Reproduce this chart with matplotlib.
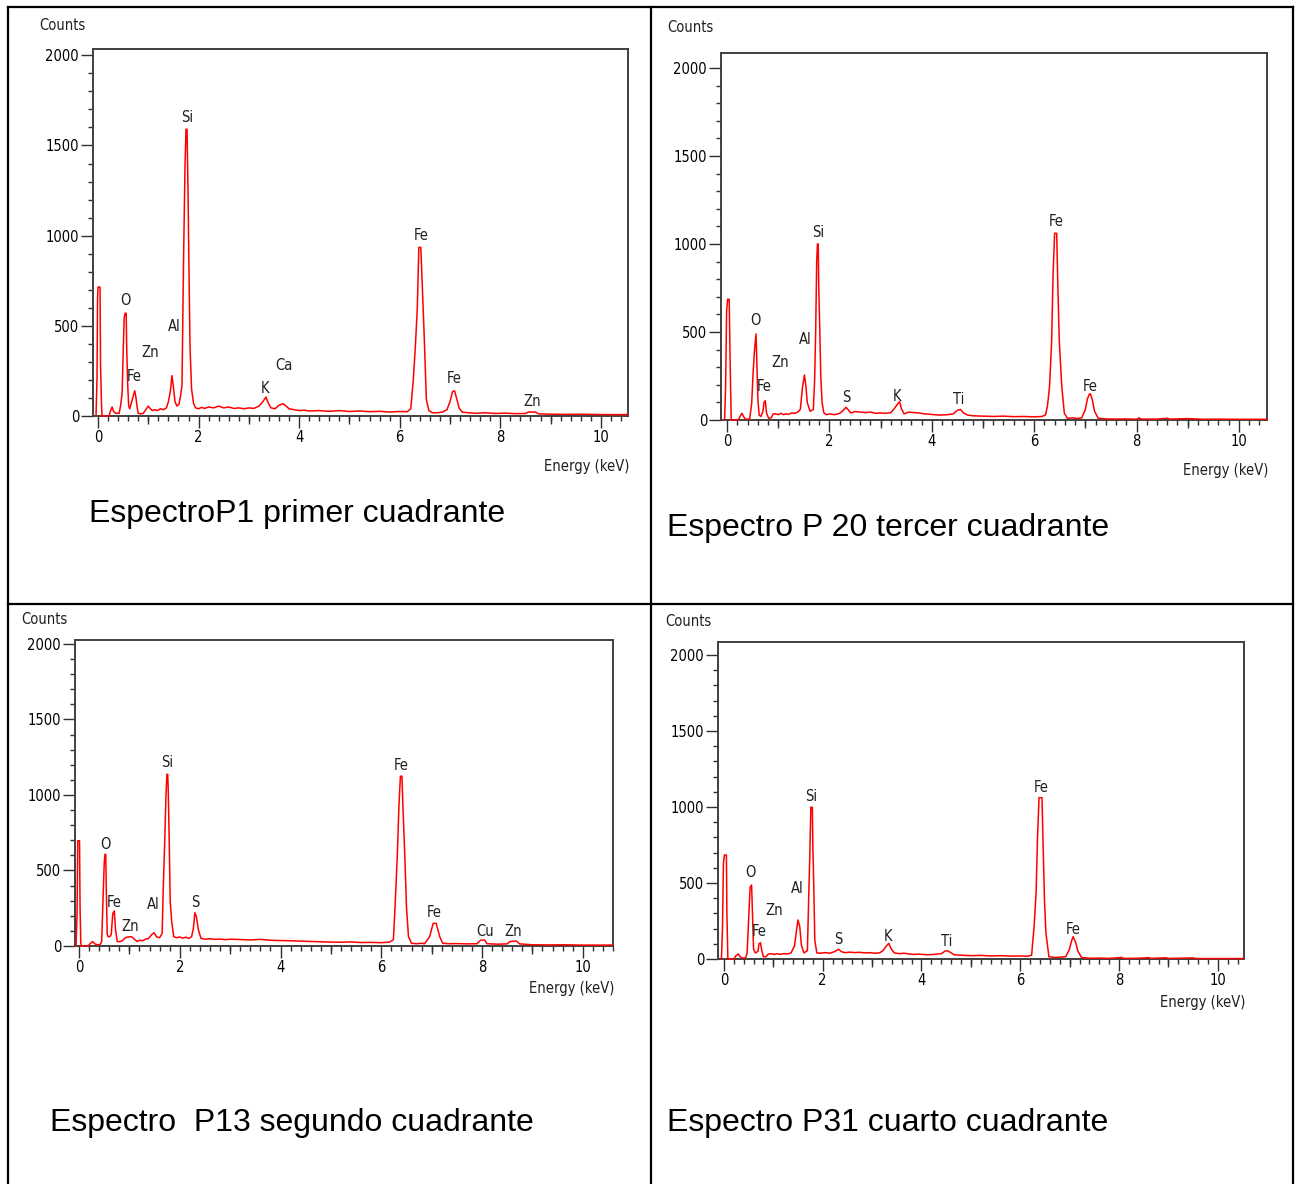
import numpy as np
import matplotlib
matplotlib.use("Agg")
import matplotlib.pyplot as plt
from matplotlib.lines import Line2D
from matplotlib.ticker import MultipleLocator

plt.rcParams['font.family'] = ['DejaVu Sans']
plt.rcParams['font.stretch'] = 'condensed'

# ---- datos (energia keV, cuentas) ----
e_p1 = [-0.04, -0.02, -0.01, 0.00, 0.04, 0.05, 0.07, 0.08, 0.22, 0.25, 0.28, 0.31, 0.35, 0.42,
        0.45, 0.48, 0.50, 0.52, 0.54, 0.56, 0.57, 0.59, 0.61, 0.63, 0.66, 0.70, 0.73, 0.75, 0.78,
        0.80, 0.85, 0.90, 0.95, 1.00, 1.04, 1.08, 1.12, 1.18, 1.24, 1.30, 1.36, 1.40, 1.44, 1.47,
        1.50, 1.53, 1.57, 1.61, 1.64, 1.67, 1.70, 1.73, 1.75, 1.77, 1.79, 1.81, 1.83, 1.86, 1.90,
        1.94, 2.00, 2.06, 2.12, 2.20, 2.30, 2.40, 2.50, 2.60, 2.70, 2.80, 2.90, 3.00, 3.10, 3.20,
        3.28, 3.34, 3.38, 3.44, 3.52, 3.60, 3.68, 3.74, 3.80, 3.90, 4.00, 4.10, 4.20, 4.40, 4.60,
        4.80, 5.00, 5.20, 5.40, 5.60, 5.80, 6.00, 6.15, 6.22, 6.27, 6.31, 6.35, 6.38, 6.42, 6.45,
        6.49, 6.53, 6.58, 6.65, 6.75, 6.85, 6.94, 7.00, 7.05, 7.09, 7.13, 7.18, 7.24, 7.35, 7.50,
        7.70, 7.90, 8.10, 8.30, 8.50, 8.56, 8.70, 8.76, 9.00, 9.30, 9.60, 10.00, 10.30, 10.54]
c_p1 = [0, 210, 650, 715, 715, 275, 60, 0, 0, 30, 50, 25, 15, 15,
        60, 130, 350, 545, 570, 570, 380, 175, 55, 40, 70, 110, 140, 110, 45,
        15, 12, 15, 35, 55, 40, 30, 35, 30, 40, 35, 45, 80, 140, 224,
        160, 80, 55, 65, 110, 170, 850, 1390, 1590, 1590, 1240, 780, 380, 150, 70,
        45, 40, 48, 42, 50, 45, 55, 45, 50, 42, 45, 40, 45, 42, 55,
        80, 105, 75, 45, 40, 60, 68, 55, 40, 35, 30, 32, 28, 30, 26,
        30, 25, 28, 24, 26, 22, 25, 24, 40, 200, 380, 600, 935, 935, 720,
        420, 90, 30, 18, 18, 22, 35, 80, 135, 140, 100, 45, 22, 18, 15,
        18, 14, 16, 13, 14, 22, 22, 12, 10, 9, 10, 8, 8, 8]

e_p20 = [-0.05, -0.03, -0.01, 0.01, 0.04, 0.06, 0.08, 0.22, 0.26, 0.29, 0.32, 0.36, 0.44, 0.48,
         0.51, 0.54, 0.565, 0.585, 0.60, 0.625, 0.66, 0.70, 0.72, 0.745, 0.77, 0.81, 0.86, 0.90,
         0.95, 1.00, 1.05, 1.10, 1.15, 1.20, 1.26, 1.32, 1.38, 1.43, 1.47, 1.51, 1.54, 1.565,
         1.62, 1.685, 1.71, 1.73, 1.75, 1.765, 1.78, 1.79, 1.81, 1.83, 1.855, 1.89, 1.95, 2.00,
         2.10, 2.20, 2.27, 2.32, 2.36, 2.42, 2.50, 2.60, 2.70, 2.80, 2.90, 3.00, 3.10, 3.20, 3.28,
         3.34, 3.37, 3.41, 3.46, 3.55, 3.65, 3.75, 3.85, 3.95, 4.05, 4.15, 4.30, 4.42, 4.50, 4.56,
         4.62, 4.70, 4.80, 5.00, 5.20, 5.40, 5.60, 5.80, 6.00, 6.15, 6.22, 6.26, 6.30, 6.34, 6.37,
         6.40, 6.44, 6.46, 6.49, 6.54, 6.59, 6.65, 6.75, 6.85, 6.93, 7.00, 7.04, 7.08, 7.10, 7.14,
         7.18, 7.25, 7.40, 7.60, 7.80, 8.00, 8.05, 8.10, 8.40, 8.60, 8.65, 9.00, 9.30, 9.60, 10.00,
         10.30, 10.55]
c_p20 = [0, 190, 625, 686, 686, 303, 0, 0, 25, 38, 20, 5, 5, 95,
         284, 417, 489, 284, 123, 28, 20, 50, 100, 110, 40, 10, 12, 35,
         35, 30, 38, 30, 35, 32, 40, 38, 45, 60, 180, 256, 190, 100,
         50, 60, 230, 500, 900, 1000, 1000, 760, 520, 250, 100, 40, 30, 35,
         30, 38, 55, 72, 60, 40, 48, 45, 42, 45, 38, 40, 38, 42, 70,
         95, 104, 60, 35, 45, 42, 40, 35, 33, 30, 28, 30, 35, 55, 60,
         40, 28, 24, 22, 20, 22, 19, 20, 18, 20, 28, 80, 189, 436, 833,
         1061, 1061, 795, 455, 189, 38, 10, 12, 8, 12, 60, 120, 148, 148, 110,
         50, 10, 6, 5, 6, 4, 12, 5, 5, 10, 5, 8, 4, 5, 4,
         4, 4]

e_p13 = [-0.06, -0.04, -0.025, 0.01, 0.02, 0.035, 0.05, 0.18, 0.22, 0.27, 0.31, 0.36, 0.42, 0.45,
         0.48, 0.50, 0.515, 0.53, 0.545, 0.56, 0.58, 0.62, 0.64, 0.67, 0.70, 0.725, 0.76, 0.80,
         0.86, 0.92, 0.98, 1.04, 1.10, 1.15, 1.20, 1.26, 1.32, 1.38, 1.44, 1.49, 1.54, 1.60, 1.65,
         1.67, 1.70, 1.725, 1.745, 1.76, 1.77, 1.79, 1.81, 1.84, 1.88, 1.94, 2.00, 2.06, 2.12, 2.18,
         2.235, 2.27, 2.30, 2.33, 2.37, 2.42, 2.50, 2.60, 2.70, 2.80, 2.90, 3.00, 3.20, 3.40, 3.60,
         3.80, 4.00, 4.20, 4.40, 4.60, 4.80, 5.00, 5.20, 5.40, 5.60, 5.80, 6.00, 6.15, 6.24, 6.28,
         6.32, 6.35, 6.38, 6.41, 6.43, 6.47, 6.50, 6.54, 6.60, 6.70, 6.80, 6.86, 6.96, 7.03, 7.09,
         7.16, 7.22, 7.35, 7.50, 7.70, 7.90, 7.97, 8.05, 8.10, 8.30, 8.50, 8.56, 8.68, 8.75, 9.00,
         9.30, 9.60, 10.00, 10.30, 10.60]
c_p13 = [0, 205, 697, 697, 260, 20, 0, 0, 15, 29, 15, 8, 10, 30,
         349, 547, 607, 607, 305, 77, 60, 65, 77, 216, 232, 106, 30, 28,
         35, 55, 60, 62, 45, 30, 38, 35, 45, 50, 75, 88, 60, 55, 84,
         360, 680, 989, 1137, 1137, 1044, 702, 294, 161, 62, 55, 60, 52, 58, 50,
         62, 117, 221, 194, 106, 51, 45, 48, 44, 46, 42, 45, 43, 40, 44,
         38, 36, 35, 32, 30, 28, 26, 25, 27, 23, 24, 22, 25, 40, 305,
         614, 923, 1124, 1124, 923, 570, 260, 62, 18, 15, 18, 15, 62, 150, 150,
         62, 18, 15, 16, 14, 15, 38, 40, 15, 12, 14, 30, 33, 14, 8,
         7, 8, 6, 6, 6]

e_p31 = [-0.05, -0.03, -0.01, 0.01, 0.05, 0.06, 0.08, 0.20, 0.24, 0.29, 0.33, 0.38, 0.44, 0.47,
         0.50, 0.53, 0.56, 0.58, 0.60, 0.635, 0.69, 0.71, 0.74, 0.77, 0.80, 0.85, 0.90, 0.96,
         1.02, 1.08, 1.14, 1.20, 1.28, 1.36, 1.43, 1.47, 1.50, 1.535, 1.57, 1.62, 1.69, 1.715,
         1.735, 1.76, 1.79, 1.80, 1.82, 1.84, 1.88, 1.95, 2.05, 2.15, 2.25, 2.32, 2.38, 2.45, 2.55,
         2.65, 2.75, 2.85, 2.95, 3.05, 3.15, 3.22, 3.30, 3.34, 3.38, 3.45, 3.55, 3.65, 3.75, 3.85,
         3.95, 4.10, 4.25, 4.40, 4.48, 4.52, 4.58, 4.66, 4.80, 5.00, 5.20, 5.40, 5.60, 5.80, 6.00,
         6.15, 6.23, 6.28, 6.32, 6.35, 6.38, 6.44, 6.46, 6.49, 6.52, 6.58, 6.70, 6.80, 6.92, 6.99,
         7.04, 7.07, 7.12, 7.17, 7.24, 7.40, 7.60, 7.80, 8.05, 8.10, 8.40, 8.60, 8.65, 8.95, 9.00,
         9.50, 9.55, 10.00, 10.53]
c_p31 = [0, 191, 630, 684, 684, 300, 0, 0, 20, 33, 15, 5, 8, 40,
         257, 471, 487, 280, 66, 40, 50, 100, 107, 50, 15, 15, 33, 35,
         30, 35, 30, 35, 33, 40, 88, 191, 257, 213, 88, 40, 55, 388,
         630, 998, 998, 750, 467, 125, 40, 38, 42, 38, 50, 64, 48, 42, 45,
         42, 44, 40, 42, 38, 40, 55, 90, 103, 70, 40, 35, 38, 33, 30,
         32, 28, 30, 35, 52, 55, 45, 28, 25, 22, 24, 20, 22, 19, 20,
         18, 26, 213, 432, 805, 1061, 1061, 783, 388, 169, 15, 10, 12, 15, 59,
         120, 147, 110, 50, 10, 5, 6, 4, 10, 4, 5, 9, 4, 8, 4,
         7, 3, 3, 3]

# etiquetas de los picos: simbolo, energia, cuentas (centro del texto)
lab_p1 = ['O', 'Fe', 'Zn', 'Al', 'Si', 'K', 'Ca', 'Fe', 'Fe', 'Zn']
lx_p1 = [0.54, 0.72, 1.03, 1.51, 1.77, 3.32, 3.70, 6.42, 7.08, 8.63]
ly_p1 = [639, 217, 350, 494, 1656, 150, 278, 1000, 206, 83]

lab_p20 = ['O', 'Fe', 'Zn', 'Al', 'Si', 'S', 'K', 'Ti', 'Fe', 'Fe']
lx_p20 = [0.55, 0.72, 1.04, 1.52, 1.78, 2.32, 3.32, 4.53, 6.43, 7.09]
ly_p20 = [568, 188, 324, 460, 1068, 125, 136, 114, 1125, 193]

lab_p13 = ['O', 'Fe', 'Zn', 'Al', 'Si', 'S', 'Fe', 'Fe', 'Cu', 'Zn']
lx_p13 = [0.52, 0.69, 1.01, 1.47, 1.75, 2.30, 6.39, 7.06, 8.06, 8.61]
ly_p13 = [669, 291, 132, 272, 1212, 285, 1192, 225, 99, 99]

lab_p31 = ['O', 'Fe', 'Zn', 'Al', 'Si', 'S', 'K', 'Ti', 'Fe', 'Fe']
lx_p31 = [0.53, 0.71, 1.01, 1.48, 1.76, 2.31, 3.32, 4.51, 6.42, 7.07]
ly_p31 = [566, 184, 322, 461, 1066, 125, 145, 118, 1125, 197]

captions = ['EspectroP1 primer cuadrante', 'Espectro P 20 tercer cuadrante',
            'Espectro  P13 segundo cuadrante', 'Espectro P31 cuarto cuadrante']

W, H = 1296, 1184
fig = plt.figure(figsize=(W / 100, H / 100), dpi=100)
fig.patch.set_facecolor('white')


def fx(x):
    return x / W


def fy(y):
    return 1 - y / H


def panel(box, xlim, ymax, e, c, labs, lx, ly, counts_xy, energy_xy, cap_xy, cap):
    left, top, right, bottom = box
    ax = fig.add_axes([fx(left), fy(bottom), fx(right - left), (bottom - top) / H])
    ax.plot(e, c, color='#ff0000', lw=1.1, clip_on=False, zorder=3)
    ax.set_xlim(*xlim)
    ax.set_ylim(0, ymax)
    for s in ax.spines.values():
        s.set_color('#404040')
        s.set_linewidth(1.4)
    ax.xaxis.set_major_locator(MultipleLocator(2))
    ax.xaxis.set_minor_locator(MultipleLocator(0.2))
    ax.yaxis.set_major_locator(MultipleLocator(500))
    ax.yaxis.set_minor_locator(MultipleLocator(100))
    ax.tick_params(which='major', direction='out', length=8.5, width=1, color='#303030',
                   labelsize=10.5, pad=1.5)
    ax.tick_params(which='minor', direction='out', length=3.5, width=1, color='#303030')
    sec = ax.secondary_xaxis('bottom')
    sec.set_xticks([1, 3, 5, 7, 9], labels=[])
    sec.tick_params(length=6, width=1, color='#303030')
    sec.spines['bottom'].set_visible(False)
    for name, x, y in zip(labs, lx, ly):
        ax.text(x, y, name, ha='center', va='center', fontsize=10.5, color='#202020')
    fig.text(fx(counts_xy[0]), fy(counts_xy[1]), 'Counts', ha='center', va='center',
             fontsize=10.5, color='#202020')
    fig.text(fx(energy_xy[0]), fy(energy_xy[1]), 'Energy (keV)', ha='right', va='center',
             fontsize=10.5, color='#202020')
    fig.text(fx(cap_xy[0]), fy(cap_xy[1]), cap, ha='left', va='center', fontsize=23,
             family=['Liberation Sans', 'DejaVu Sans'], fontstretch='normal', color='black')
    return ax


panel((93, 49, 628, 416), (-0.1, 10.54), 2035, e_p1, c_p1, lab_p1, lx_p1, ly_p1,
      (62, 25), (629, 466), (89, 514), captions[0])
panel((721, 53, 1267, 420), (-0.12, 10.55), 2085, e_p20, c_p20, lab_p20, lx_p20, ly_p20,
      (690, 28), (1268, 470), (667, 528), captions[1])
panel((75, 640, 613, 946), (-0.08, 10.6), 2026, e_p13, c_p13, lab_p13, lx_p13, ly_p13,
      (44, 619), (614, 988), (50, 1123), captions[2])
panel((718, 642, 1244, 959), (-0.12, 10.53), 2085, e_p31, c_p31, lab_p31, lx_p31, ly_p31,
      (688, 621), (1245, 1002), (667, 1123), captions[3])

# bordes de la tabla
segs = [((8, 7), (8, 1184)), ((1293, 7), (1293, 1184)), ((8, 7), (1293, 7)),
        ((8, 604), (1293, 604)), ((651, 7), (651, 1184))]
for (x0, y0), (x1, y1) in segs:
    fig.add_artist(Line2D([fx(x0), fx(x1)], [fy(y0), fy(y1)], transform=fig.transFigure,
                          color='black', lw=1.6))

fig.savefig('out.png', dpi=100)
